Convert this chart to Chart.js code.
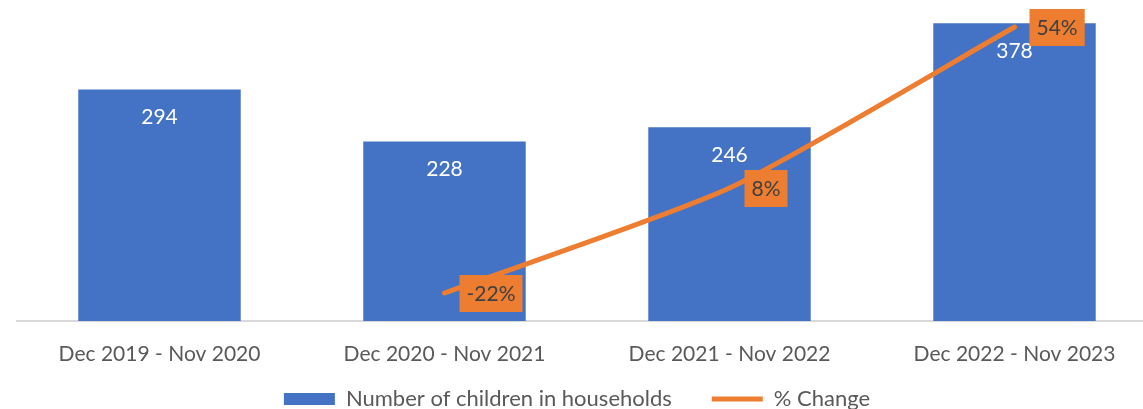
<!DOCTYPE html>
<html>
<head>
<meta charset="utf-8">
<script src="https://cdn.jsdelivr.net/npm/chart.js@4"></script>
<style>
  html, body { margin: 0; padding: 0; background: #fff; overflow: hidden; }
  #wrap { width: 1157px; height: 409px; }
</style>
</head>
<body>
<div id="wrap"><canvas id="graphique"></canvas></div>
<script>
const periodes = ["Dec 2019 - Nov 2020", "Dec 2020 - Nov 2021", "Dec 2021 - Nov 2022", "Dec 2022 - Nov 2023"];
const nbEnfants = [294, 228, 246, 378];
const variation = [null, -0.22, 0.08, 0.54];

const police = "Lato, 'Open Sans', sans-serif";

const etiquettes = {
    id: "etiquettes",
    afterLayout(chart) {
        // remonte la légende pour garder un grand écart entre les éléments
        chart.legend.top -= 20;
        chart.legend.left -= 20;
    },
    afterDatasetsDraw(chart) {
        const ctx = chart.ctx;
        ctx.save();
        ctx.font = "21px " + police;
        ctx.textAlign = "center";
        ctx.textBaseline = "middle";

        // valeurs dans les barres
        const barres = chart.getDatasetMeta(0);
        barres.data.forEach((barre, i) => {
            ctx.fillStyle = "#ffffff";
            ctx.fillText(nbEnfants[i], barre.x, barre.y + 28);
        });

        // pourcentages dans des cases orange
        const ligne = chart.getDatasetMeta(1);
        ligne.data.forEach((point, i) => {
            if (variation[i] === null) return;
            const texte = Math.round(variation[i] * 100) + "%";
            const largeur = ctx.measureText(texte).width + 14;
            const gauche = point.x + 15;
            ctx.fillStyle = "#ED7D31";
            ctx.fillRect(gauche, point.y - 18, largeur, 37);
            ctx.fillStyle = "#404040";
            ctx.fillText(texte, gauche + largeur / 2, point.y + 1);
        });
        ctx.restore();
    }
};

const data = {
    labels: periodes,
    datasets: [{
        type: "bar",
        label: "Number of children in households",
        data: nbEnfants,
        backgroundColor: "#4472C4",
        borderWidth: 0,
        pointStyle: "rect",
        barPercentage: 0.57,
        categoryPercentage: 1,
        yAxisID: "y",
        order: 2
    }, {
        type: "line",
        label: "% Change",
        data: variation,
        borderColor: "#ED7D31",
        backgroundColor: "#ED7D31",
        borderWidth: 5,
        borderCapStyle: "round",
        pointRadius: 0,
        pointStyle: "line",
        tension: 0.2,
        yAxisID: "y2",
        order: 1
    }]
};

const config = {
    type: "bar",
    data: data,
    options: {
        responsive: true,
        maintainAspectRatio: false,
        animation: false,
        layout: { padding: { top: 6, left: 17, right: 0, bottom: 0 } },
        plugins: {
            tooltip: { enabled: false },
            legend: {
                position: "bottom",
                maxHeight: 41,
                labels: {
                    usePointStyle: true,
                    pointStyleWidth: 51,
                    boxHeight: 12,
                    padding: 40,
                    color: "#595959",
                    font: { family: police, size: 22 },
                    sort: (a, b) => a.datasetIndex - b.datasetIndex
                }
            }
        },
        scales: {
            x: {
                grid: { display: false },
                border: { display: true, color: "#D9D9D9", width: 2 },
                ticks: { color: "#595959", font: { family: police, size: 21 }, padding: 13 },
                afterFit: (echelle) => { echelle.height = 47; }
            },
            y: { display: false, min: 0, max: 400 },
            y2: { display: false, min: -0.3, max: 0.6 }
        }
    },
    plugins: [etiquettes]
};

const graphique = new Chart(document.querySelector("#graphique"), config);
</script>
</body>
</html>
